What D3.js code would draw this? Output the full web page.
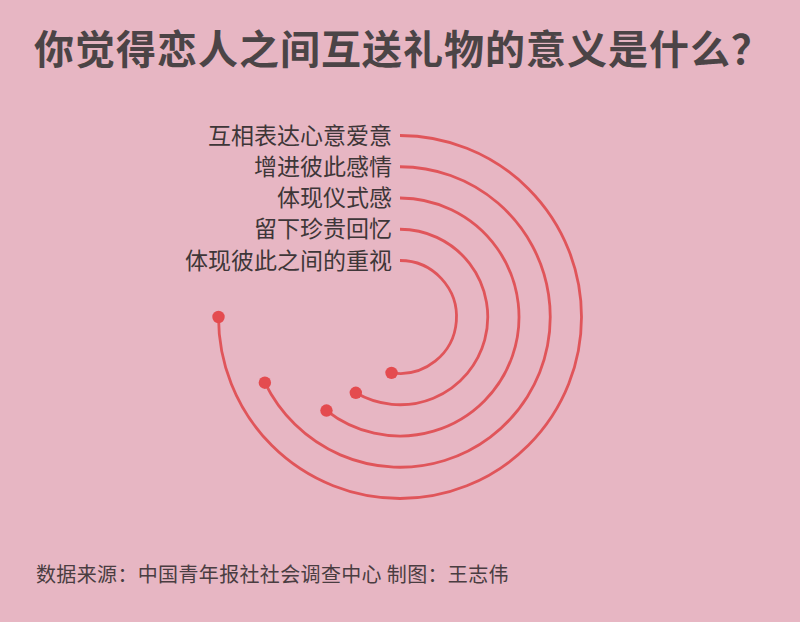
<!DOCTYPE html>
<html>
<head>
<meta charset="utf-8">
<script src="https://cdn.jsdelivr.net/npm/d3@7/dist/d3.min.js"></script>
<style>
  html, body { margin: 0; padding: 0; background: #e7b6c3; }
  svg { display: block; }
</style>
</head>
<body>
<div id="chart"></div>
<script>
const titleText = "你觉得恋人之间互送礼物的意义是什么？";
const footerText = "数据来源：中国青年报社社会调查中心 制图：王志伟";
const categories = ["互相表达心意爱意", "增进彼此感情", "体现仪式感", "留下珍贵回忆", "体现彼此之间的重视"];
const values = [75.0, 67.8, 60.6, 58.4, 52.4];

const W = 800, H = 622;
const cx = 400, cy = 317;
const font = "'Noto Sans CJK SC', 'Noto Sans', sans-serif";

const svg = d3.select("#chart").append("svg")
  .attr("width", W).attr("height", H);

svg.append("rect").attr("width", W).attr("height", H).attr("fill", "#e7b6c3");

svg.append("text")
  .attr("x", 34).attr("y", 64)
  .attr("font-family", font).attr("font-weight", "bold")
  .attr("font-size", 40).attr("fill", "#4b4446")
  .attr("letter-spacing", 1)
  .text(titleText);

const angle = d3.scaleLinear().domain([0, 100]).range([0, 2 * Math.PI]);
const radius = d3.scalePoint().domain(categories).range([181.5, 56.5]);

const g = svg.append("g").attr("transform", `translate(${cx},${cy})`);

const data = categories.map((c, i) => ({ c, v: values[i] }));

g.selectAll("path.arc").data(data).join("path")
  .attr("class", "arc")
  .attr("d", d => {
    const p = d3.path();
    const r = radius(d.c);
    p.moveTo(0, -r);
    p.arc(0, 0, r, -Math.PI / 2, -Math.PI / 2 + angle(d.v), false);
    return p.toString();
  })
  .attr("fill", "none")
  .attr("stroke", "#e0555a")
  .attr("stroke-width", 2.8);

g.selectAll("circle.dot").data(data).join("circle")
  .attr("class", "dot")
  .attr("cx", d => radius(d.c) * Math.sin(angle(d.v)))
  .attr("cy", d => -radius(d.c) * Math.cos(angle(d.v)))
  .attr("r", 6.2)
  .attr("fill", "#e44b4f");

g.selectAll("text.lab").data(data).join("text")
  .attr("class", "lab")
  .attr("x", -8)
  .attr("y", d => -radius(d.c))
  .attr("dy", "0.35em")
  .attr("text-anchor", "end")
  .attr("font-family", font)
  .attr("font-size", 23)
  .attr("fill", "#3e3638")
  .text(d => d.c);

svg.append("text")
  .attr("x", 36).attr("y", 582)
  .attr("font-family", font)
  .attr("font-size", 20).attr("fill", "#4a3d41")
  .attr("letter-spacing", 0.35)
  .text(footerText);
</script>
</body>
</html>
